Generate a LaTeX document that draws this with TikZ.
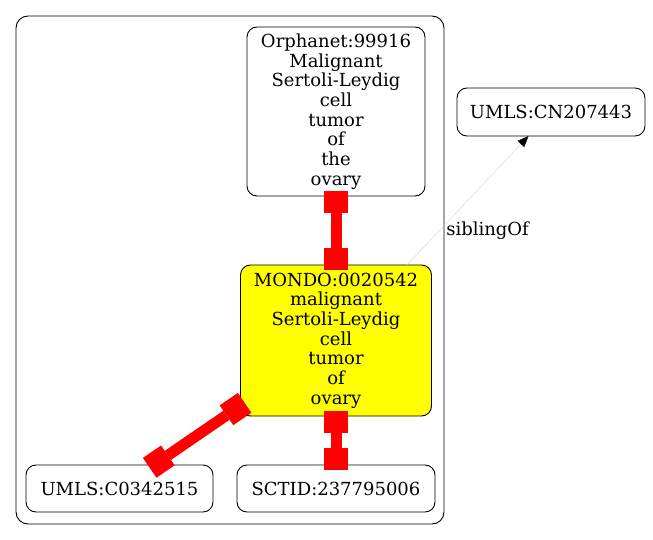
\documentclass[tikz,border=0pt]{standalone}
\usepackage{fontspec}
\setmainfont{DejaVu Serif}
\usetikzlibrary{arrows.meta}
\definecolor{EdgeRed}{HTML}{FF0000}
\definecolor{NodeYellow}{HTML}{FFFF00}
\definecolor{ThinGray}{HTML}{D3D3D3}

\begin{document}
\begin{tikzpicture}[
  x=1pt,y=-1pt,
  every node/.style={font=\fontsize{18}{19.7}\selectfont},
  term/.style={draw=black,line width=0.9pt,rounded corners=10pt,fill=white,align=center,inner sep=0pt,outer sep=0pt},
  focus/.style={term,fill=NodeYellow},
  xref/.style={line width=11pt,color=EdgeRed,
    {Square[length=22pt,width=24pt,line width=0pt]}-{Square[length=22pt,width=24pt,line width=0pt]},
    shorten <=-5pt,shorten >=-5pt},
  sib/.style={line width=0.4pt,color=ThinGray,-{Triangle[length=11pt,width=9pt,color=black]}}
]
\useasboundingbox (0,0) rectangle (653,540);
% cluster
\draw[line width=0.9pt,rounded corners=12pt] (16,16) rectangle (444,524);
\node[term,minimum width=178pt,minimum height=169pt] (orph) at (336,111.5)
  {Orphanet:99916\\Malignant\\Sertoli-Leydig\\cell\\tumor\\of\\the\\ovary};
\node[focus,minimum width=191pt,minimum height=151pt] (mondo) at (336,340.5)
  {MONDO:0020542\\malignant\\Sertoli-Leydig\\cell\\tumor\\of\\ovary};
\node[term,minimum width=187pt,minimum height=47pt] (umlsA) at (119.5,488.5) {UMLS:C0342515};
\node[term,minimum width=198pt,minimum height=47pt] (sctid) at (336,488.5) {SCTID:237795006};
\node[term,minimum width=188pt,minimum height=48pt] (umlsB) at (551,112) {UMLS:CN207443};
\draw[xref] (orph) -- (mondo);
\draw[xref] (mondo) -- (sctid);
\draw[xref] (mondo) -- (umlsA);
\draw[sib] (mondo) -- (umlsB) node[pos=0.27,right=3pt,text=black] (siblbl) {siblingOf};
\end{tikzpicture}
\end{document}
